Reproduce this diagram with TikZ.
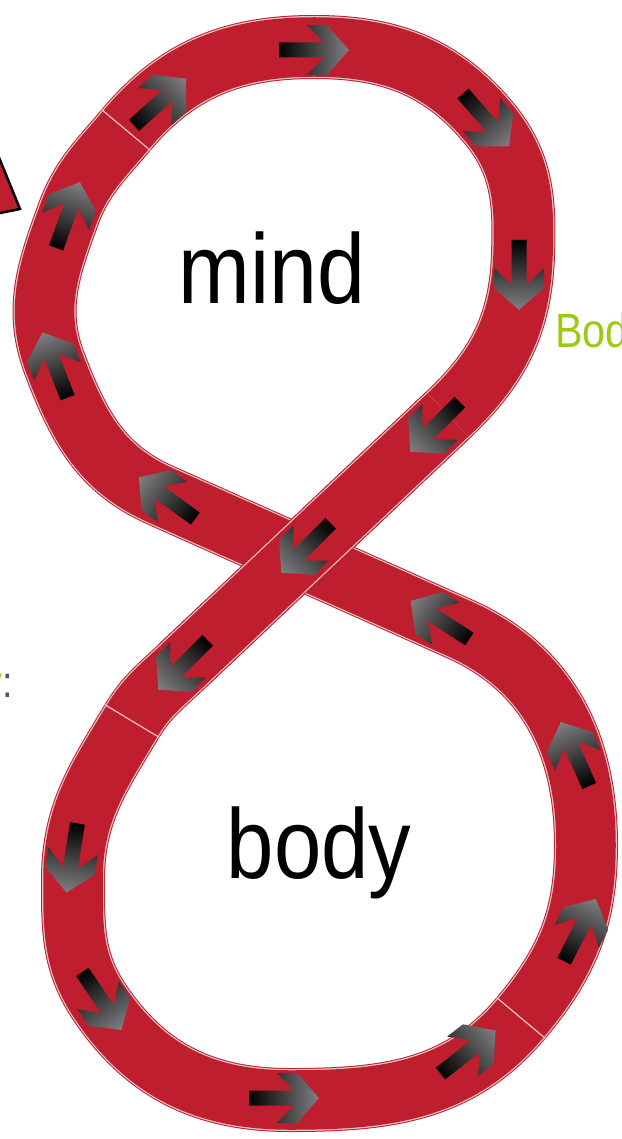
\documentclass[tikz,border=0pt]{standalone}
\usepackage{fontspec}
\setmainfont{Liberation Sans}
\usetikzlibrary{calc}
\definecolor{bandred}{RGB}{190,30,46}
\definecolor{edgecol}{RGB}{228,196,200}
\definecolor{arrowgray}{RGB}{128,128,130}
\definecolor{labelgreen}{RGB}{154,202,20}
\definecolor{labelgray}{RGB}{85,85,85}
\newcommand\flowarrow[3]{%
  \begin{scope}[transform canvas={shift={(#1,-#2)},rotate=#3}]
    \shade[left color=black,right color=arrowgray]
      (-35,-7.5) -- (10,-7.5) -- (-7,-25) -- (13,-25) -- (35,0) -- (13,25) -- (-7,25) -- (10,7.5) -- (-35,7.5) -- cycle;
  \end{scope}}
\newcommand\bandstroke[1]{%
  \draw[bandred,line width=64pt,line cap=butt] #1;
  \draw[edgecol,line width=62pt,line cap=butt] #1;
  \draw[bandred,line width=59.5pt,line cap=butt] #1;}
\begin{document}
\begin{tikzpicture}[x=1pt,y=1pt,
  seam/.style={draw=edgecol,line width=1.2pt},
  bigword/.style={font=\fontsize{99}{99}\selectfont,inner sep=0pt,anchor=base}]
\useasboundingbox (0,0) rectangle (621,-1139);
\clip (0,0) rectangle (621,-1139);
% path points
\coordinate (S1) at (126,-130);
\coordinate (T) at (314,-47);
\coordinate (R1) at (488,-122);
\coordinate (R2) at (523,-255);
\coordinate (Q1) at (448,-415);
\coordinate (Q2) at (180,-668);
\coordinate (S2) at (132,-721);
\coordinate (L1) at (73,-880);
\coordinate (B1) at (100,-1003);
\coordinate (B2) at (290,-1100);
\coordinate (S3) at (521,-1018);
\coordinate (R3) at (586,-845);
\coordinate (U1) at (460,-629);
\coordinate (U2) at (160,-495);
\coordinate (L2) at (55,-365);
\coordinate (L4) at (68,-215);
% red triangle at left edge
\draw[black,line width=2.5pt,fill=bandred] (-20,-111) -- (20,-209) -- (-20,-217) -- cycle;
% figure-eight band
\bandstroke{(S1) to[out=50,in=180] (T) to[out=0,in=130] (R1) to[out=-50,in=88] (R2)
  to[out=-92,in=43.4] (Q1) -- (Q2) to[out=223.4,in=59] (S2) to[out=239,in=90] (L1)
  to[out=270,in=124] (B1) to[out=304,in=180] (B2) to[out=0,in=230] (S3)
  to[out=50,in=270] (R3) to[out=90,in=335.9] (U1) -- (U2)
  to[out=155.9,in=291] (L2) to[out=111,in=250] (L4) to[out=70,in=230] (S1)}
% over band at the crossing
\bandstroke{(Q1) -- (Q2)}
% seams
\draw[seam] ($(S1)+(140:32)$) -- ($(S1)+(-40:32)$);
\draw[seam] ($(S2)+(149:32)$) -- ($(S2)+(-31:32)$);
\draw[seam] ($(S3)+(140:32)$) -- ($(S3)+(-40:32)$);
% arrows
\flowarrow{314}{50}{0}
\flowarrow{486}{120}{-49}
\flowarrow{519}{275}{-90}
\flowarrow{435}{427}{225}
\flowarrow{306}{548}{225}
\flowarrow{183}{665}{225}
\flowarrow{72}{858}{-99}
\flowarrow{102}{1001}{-56}
\flowarrow{284}{1098}{0}
\flowarrow{468}{1052}{38}
\flowarrow{580}{930}{63}
\flowarrow{575}{754}{114}
\flowarrow{440}{620}{147}
\flowarrow{167}{498}{144}
\flowarrow{55}{365}{111}
\flowarrow{68}{215}{70}
\flowarrow{160}{102}{42}
% texts
\node[bigword] (mind) at (272,-303) {\scalebox{0.87}[1]{mind}};
\node[bigword] (body) at (319,-878) {\scalebox{0.86}[1]{body}};
\node[font=\fontsize{48}{48}\selectfont,text=labelgreen,inner sep=0pt,anchor=base west] (bod) at (555,-347) {\scalebox{0.86}[1]{Bod}};
\node[font=\fontsize{44}{44}\selectfont,inner sep=0pt,anchor=base west] (ylabel) at (-16.5,-697) {\scalebox{0.86}[1]{\textcolor{labelgreen}{y}\textcolor{labelgray}{:}}};
\end{tikzpicture}
\end{document}
